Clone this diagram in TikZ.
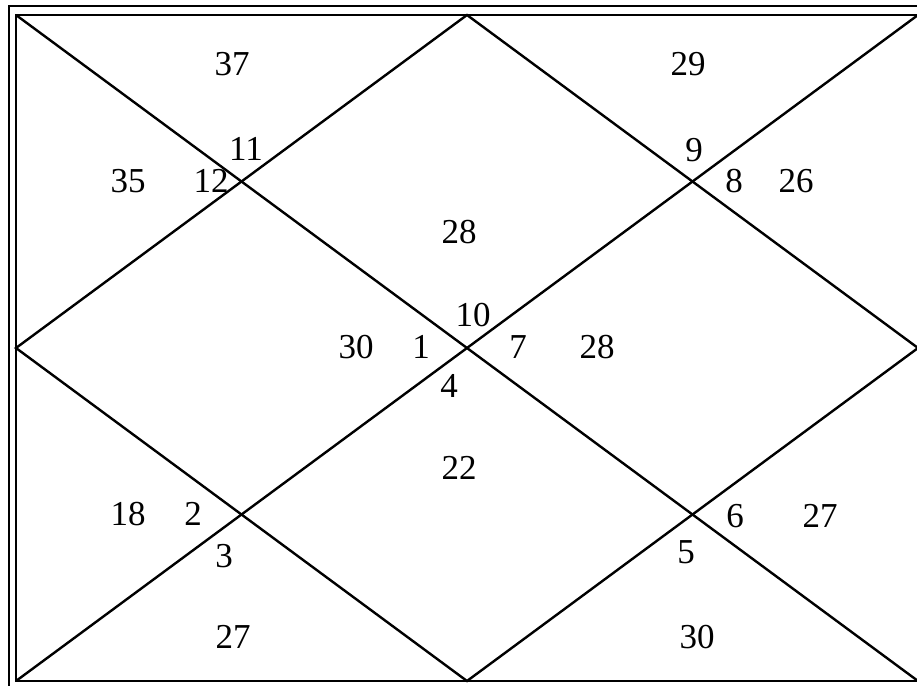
\documentclass[tikz,border=0pt]{standalone}
\usepackage{fontspec}
\setmainfont{Liberation Serif}
\begin{document}
\begin{tikzpicture}[x=1pt,y=-1pt,
  lbl/.style={inner sep=0pt,font=\fontsize{35}{40}\selectfont},
  ln/.style={line width=2.4pt}]
\useasboundingbox (0,0) rectangle (917,685);
\clip (0,0) rectangle (917,685);
% outer frame (left and top visible)
\coordinate (OTL) at (9,6);
\coordinate (OTR) at (930,6);
\coordinate (OBL) at (9,700);
\draw[ln] (OBL) -- (OTL) -- (OTR);
% inner frame
\coordinate (TL) at (16,15);
\coordinate (TR) at (918,15);
\coordinate (BR) at (918,681);
\coordinate (BL) at (16,681);
\draw[ln] (TL) -- (TR) -- (BR) -- (BL) -- cycle;
% diagonals
\draw[ln] (TL) -- (BR);
\draw[ln] (BL) -- (TR);
% diamond
\coordinate (T) at (467,15);
\coordinate (R) at (918,348);
\coordinate (B) at (467,681);
\coordinate (L) at (16,348);
\draw[ln] (T) -- (R) -- (B) -- (L) -- cycle;
% labels
\node[lbl] (n37) at (232,64) {37};
\node[lbl] (n29) at (688,64) {29};
\node[lbl] (n11) at (246,149) {11};
\node[lbl] (n12) at (211,181) {12};
\node[lbl] (n35) at (128,181) {35};
\node[lbl] (n9) at (694,150) {9};
\node[lbl] (n8) at (734,181) {8};
\node[lbl] (n26) at (796,181) {26};
\node[lbl] (n28a) at (459,232) {28};
\node[lbl] (n10) at (473,315) {10};
\node[lbl] (n30a) at (356,347) {30};
\node[lbl] (n1) at (421,347) {1};
\node[lbl] (n7) at (518,347) {7};
\node[lbl] (n28b) at (597,347) {28};
\node[lbl] (n4) at (449,386) {4};
\node[lbl] (n22) at (459,468) {22};
\node[lbl] (n18) at (128,514) {18};
\node[lbl] (n2) at (193,514) {2};
\node[lbl] (n3) at (224,556) {3};
\node[lbl] (n6) at (735,516) {6};
\node[lbl] (n27a) at (820,516) {27};
\node[lbl] (n5) at (686,552) {5};
\node[lbl] (n27b) at (233,637) {27};
\node[lbl] (n30b) at (697,637) {30};
\end{tikzpicture}
\end{document}
